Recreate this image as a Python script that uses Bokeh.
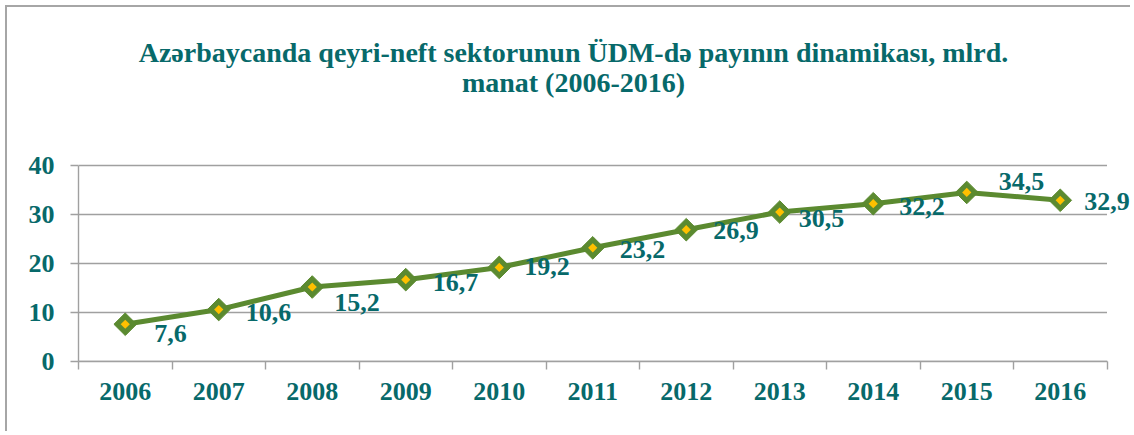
import math
from bokeh.plotting import figure
from bokeh.models import ColumnDataSource, LabelSet, FixedTicker
from bokeh.embed import file_html
from bokeh.resources import INLINE

# ---- data ----
years = ["2006", "2007", "2008", "2009", "2010", "2011", "2012", "2013", "2014", "2015", "2016"]
values = [7.6, 10.6, 15.2, 16.7, 19.2, 23.2, 26.9, 30.5, 32.2, 34.5, 32.9]
value_labels = ["7,6", "10,6", "15,2", "16,7", "19,2", "23,2", "26,9", "30,5", "32,2", "34,5", "32,9"]
y_ticks = [0, 10, 20, 30, 40]
title_lines = ["Azərbaycanda qeyri-neft sektorunun ÜDM-də payının dinamikası, mlrd.",
               "manat (2006-2016)"]

# ---- layout (page pixels) ----
ORIGIN_X, ORIGIN_Y = 7, 7          # canvas top-left on the page
CANVAS_W, CANVAS_H = 1125, 426
PLOT_LEFT, PLOT_BOTTOM = 78, 361   # axis lines
CAT_PX = 93.5                      # width of one category
Y_PX = 4.9                         # pixels per value unit
TITLE_X = 573
TITLE_BASELINES = [52, 82]

# label placement (pixels)
label_dx = [29, 27, 22, 27, 25, 27, 27, 19, 26, 32, 24]
label_up = [-9, -3, -15, -3, 1, -2, -1, -6, -3, 11, -1]

TEAL = "#07696A"
GREEN = "#5B8A30"
GOLD = "#FFC000"
GRAY = "#A0A0A0"
FONT = "Liberation Serif"

n = len(years)
frame_w = ORIGIN_X + CANVAS_W - PLOT_LEFT
frame_h = PLOT_BOTTOM - ORIGIN_Y


def px_x(page_x):
    return -0.5 + (page_x - PLOT_LEFT) / CAT_PX


def px_y(page_y):
    return (PLOT_BOTTOM - page_y) / Y_PX


xs = list(range(n))
src = ColumnDataSource(dict(x=xs, y=values, lab=value_labels, dx=label_dx, dy=label_up))

p = figure(width=CANVAS_W, height=CANVAS_H,
           x_range=(-0.5, -0.5 + frame_w / CAT_PX), y_range=(0, frame_h / Y_PX),
           output_backend="svg", toolbar_location=None,
           min_border_left=PLOT_LEFT - ORIGIN_X, min_border_right=0, min_border_top=0,
           min_border_bottom=ORIGIN_Y + CANVAS_H - PLOT_BOTTOM)
p.styles = {"margin-left": "5px", "margin-top": "5px",
            "border-left": "2px solid #A6A6A6", "border-top": "2px solid #A6A6A6"}
p.outline_line_color = None
p.background_fill_color = "white"
p.border_fill_color = "white"

# title
p.text(x=[px_x(TITLE_X)] * len(title_lines), y=[px_y(b) for b in TITLE_BASELINES], text=title_lines,
       text_align="center", text_baseline="alphabetic",
       text_font={"value": FONT}, text_font_size="28px", text_font_style="bold", text_color=TEAL)

# grid (limited to the category area)
p.xgrid.grid_line_color = None
p.ygrid.grid_line_color = None
p.segment(x0=[-0.5] * len(y_ticks), x1=[n - 0.5] * len(y_ticks), y0=y_ticks, y1=y_ticks,
          line_color=GRAY, line_width=1.4)

# x axis
p.xaxis.bounds = (-0.5, n - 0.5)
p.xaxis.ticker = FixedTicker(ticks=xs, minor_ticks=[i - 0.5 for i in range(n + 1)])
p.xaxis.major_label_overrides = {i: yv for i, yv in enumerate(years)}
p.xaxis.major_tick_line_color = None
p.xaxis.major_tick_out = 0
p.xaxis.major_tick_in = 0
p.xaxis.minor_tick_out = 8
p.xaxis.minor_tick_in = 0
p.xaxis.minor_tick_line_color = GRAY
p.xaxis.minor_tick_line_width = 1.4
p.xaxis.axis_line_color = GRAY
p.xaxis.axis_line_width = 1.4
p.xaxis.major_label_standoff = 13

# y axis
p.yaxis.bounds = (y_ticks[0], y_ticks[-1])
p.yaxis.ticker = FixedTicker(ticks=y_ticks)
p.yaxis.minor_tick_line_color = None
p.yaxis.major_tick_out = 8
p.yaxis.major_tick_in = 0
p.yaxis.major_tick_line_color = GRAY
p.yaxis.major_tick_line_width = 1.4
p.yaxis.axis_line_color = GRAY
p.yaxis.axis_line_width = 1.4
p.yaxis.major_label_standoff = 16

for ax in (p.xaxis, p.yaxis):
    ax.major_label_text_font = FONT
    ax.major_label_text_font_size = "26px"
    ax.major_label_text_font_style = "bold"
    ax.major_label_text_color = TEAL

# line + markers
p.line("x", "y", source=src, line_color=GREEN, line_width=5)
p.scatter("x", "y", source=src, marker="square", size=16, angle=math.pi / 4,
          fill_color=GREEN, line_color=GREEN, line_width=1)
p.scatter("x", "y", source=src, marker="square", size=6.5, angle=math.pi / 4,
          fill_color=GOLD, line_color=None)

labels = LabelSet(x="x", y="y", text="lab", source=src, x_offset="dx", y_offset="dy",
                  text_align="left", text_baseline="middle",
                  text_font=FONT, text_font_size="26px", text_font_style="bold", text_color=TEAL)
p.add_layout(labels)

open("out.html", "w").write(file_html(p, INLINE))
